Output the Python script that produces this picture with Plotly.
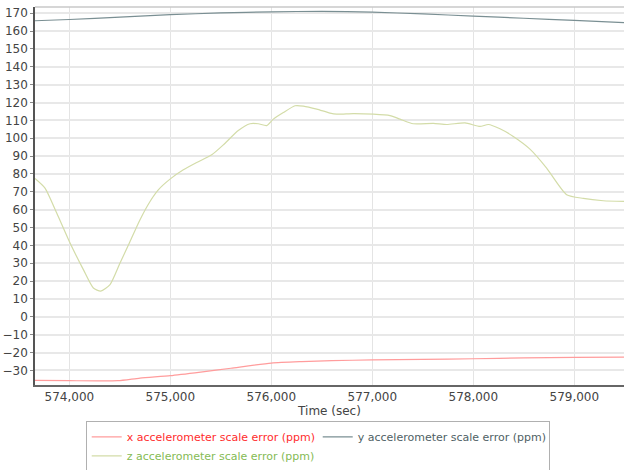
import plotly.graph_objects as go

# x accelerometer scale error (ppm)
x_time = [573660, 574000, 574480, 574700, 575000, 575300, 575600, 576000, 576300,
          576600, 577000, 577500, 578000, 578500, 579000, 579492]
x_vals = [-35.6, -35.8, -35.8, -34.3, -33.0, -31.0, -28.8, -25.9, -25.1,
          -24.6, -24.1, -23.8, -23.5, -23.0, -22.7, -22.6]

# y accelerometer scale error (ppm)
y_time = [573660, 574000, 574500, 575000, 575500, 576000, 576500, 577000,
          577500, 578000, 578500, 579000, 579492]
y_vals = [165.8, 166.5, 167.8, 169.2, 170.2, 170.8, 171.1, 170.6,
          169.6, 168.4, 167.2, 166.0, 164.8]

# z accelerometer scale error (ppm)
z_time = [573660, 573759, 573875, 574007, 574139, 574238, 574311, 574403, 574502,
          574601, 574700, 574799, 574881, 574997, 575129, 575261, 575410, 575525,
          575673, 575789, 575871, 575954, 576020, 576119, 576235, 576317, 576450,
          576581, 576647, 576812, 577010, 577175, 577274, 577406, 577604, 577737,
          577918, 578066, 578149, 578264, 578396, 578561, 578726, 578924, 579089,
          579287, 579492]
z_vals = [77.5, 72.1, 58.1, 41.3, 26.4, 16.1, 14.4, 18.0, 30.1,
          42.2, 54.4, 64.6, 71.1, 77.1, 82.3, 86.4, 90.7, 96.3,
          104.3, 108.1, 108.1, 107.1, 110.7, 114.4, 118.2, 118.0, 116.3,
          114.1, 113.5, 113.8, 113.5, 112.7, 110.7, 108.1, 108.3, 107.7,
          108.6, 106.6, 107.7, 105.3, 101.0, 93.9, 83.3, 68.4, 66.3,
          65.0, 64.6]

names = ["x accelerometer scale error (ppm)",
         "y accelerometer scale error (ppm)",
         "z accelerometer scale error (ppm)"]
line_colors = ["#ff9c9c", "#7a8f93", "#d3dca8"]
text_colors = ["#ff2d2d", "#4f5f65", "#85bb55"]

x_ticks = [574000, 575000, 576000, 577000, 578000, 579000]
x_ticktext = ["574,000", "575,000", "576,000", "577,000", "578,000", "579,000"]

fig = go.Figure()
for t, v, n, lc, tc in zip([x_time, y_time, z_time], [x_vals, y_vals, z_vals],
                           names, line_colors, text_colors):
    fig.add_trace(go.Scatter(
        x=t, y=v, mode="lines",
        name=f"<span style='color:{tc}'>{n}</span>",
        line=dict(color=lc, width=1.2, shape="spline", smoothing=0.6),
    ))

fig.update_layout(
    width=624, height=470,
    margin=dict(l=35, r=0, t=7, b=85, autoexpand=False),
    paper_bgcolor="white", plot_bgcolor="white",
    font=dict(family="DejaVu Sans, Verdana, sans-serif", size=12, color="#444"),
    showlegend=True,
    legend=dict(
        orientation="h", x=0.48, xanchor="center", y=-0.096, yanchor="top",
        bordercolor="#b0b0b0", borderwidth=1, bgcolor="white",
        font=dict(size=11), itemwidth=30, tracegroupgap=0,
        entrywidth=186,
    ),
)
fig.update_xaxes(
    range=[573660, 579492],
    tickvals=x_ticks, ticktext=x_ticktext,
    showgrid=True, gridcolor="#e4e4e4", gridwidth=1,
    showline=True, linecolor="#666", linewidth=1.5,
    ticks="", zeroline=False,
    title=dict(text="Time (sec)", font=dict(size=12, color="#444"), standoff=3),
    mirror=False,
)
fig.update_yaxes(
    range=[-38.2, 173.5], dtick=10, tick0=0,
    showgrid=True, gridcolor="#e8e8e8", gridwidth=1.5,
    showline=True, linecolor="#555", linewidth=1.5,
    ticks="outside", ticklen=3, tickcolor="#888",
    zeroline=False,
)
# top border of plot area
fig.add_shape(type="line", xref="paper", yref="paper", x0=0, x1=1, y0=1, y1=1,
              line=dict(color="#c8c8c8", width=1.5))

fig.write_html("out.html", config={"displayModeBar": False},
               post_script="document.body.style.margin='0px';document.body.style.padding='0px';")
